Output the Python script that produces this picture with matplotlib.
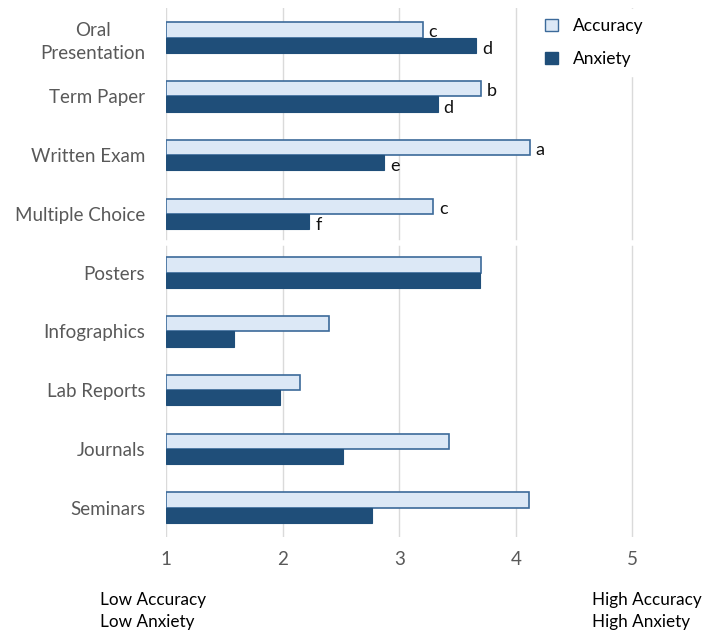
import matplotlib
matplotlib.use("Agg")
import matplotlib.pyplot as plt
import numpy as np
from matplotlib.patches import Patch

plt.rcParams['font.family'] = ['Lato', 'DejaVu Sans']

categories = ["Oral\nPresentation", "Term Paper", "Written Exam", "Multiple Choice",
              "Posters", "Infographics", "Lab Reports", "Journals", "Seminars"]
accuracy = [3.20, 3.70, 4.12, 3.29, 3.70, 2.40, 2.15, 3.43, 4.11]
anxiety = [3.66, 3.33, 2.87, 2.23, 3.69, 1.58, 1.98, 2.52, 2.77]
acc_letters = ["c", "b", "a", "c"]
anx_letters = ["d", "d", "e", "f"]
xticks = [1, 2, 3, 4, 5]

light = "#dce8f6"
edge = "#3c6a9a"
dark = "#1f4e79"
grey = "#595959"

fig = plt.figure(figsize=(7.02, 6.33), dpi=100)
ax = fig.add_axes([0.2365, 0.1517, 0.7475, 0.8353])

y = np.arange(len(categories))
h = 0.26
base = 1
ax.barh(y - h / 2, np.array(accuracy) - base, left=base, height=h,
        color=light, edgecolor=edge, linewidth=1.2, zorder=3)
ax.barh(y + h / 2, np.array(anxiety) - base, left=base, height=h,
        color=dark, edgecolor=dark, linewidth=0.8, zorder=3)

for i, (la, lx) in enumerate(zip(acc_letters, anx_letters)):
    ax.text(accuracy[i] + 0.05, i - h / 2 + 0.04, la, va='center', ha='left',
            fontsize=13, color='#111111')
    ax.text(anxiety[i] + 0.05, i + h / 2 + 0.06, lx, va='center', ha='left',
            fontsize=13, color='#111111')

ax.set_xlim(1, 5.5)
ax.set_ylim(len(categories) - 0.5, -0.5)
ax.set_xticks(xticks)
ax.set_yticks(y)
ax.set_yticklabels(categories, fontsize=13.5, color=grey, linespacing=1.45,
                   multialignment='center')
ax.tick_params(axis='both', length=0, colors=grey)
ax.tick_params(axis='x', pad=10, labelsize=13.5)
ax.tick_params(axis='y', pad=15)
for s in ax.spines.values():
    s.set_visible(False)
for xv in xticks:
    ax.axvline(xv, color="#dadada", linewidth=1, zorder=1)
# gap between the two groups
ax.axhline(3.5, color="white", linewidth=4, zorder=2)

handles = [Patch(facecolor=light, edgecolor=edge, label="Accuracy"),
           Patch(facecolor=dark, edgecolor=dark, label="Anxiety")]
leg = ax.legend(handles=handles, loc='upper left', bbox_to_anchor=(0.69, 1.015),
                frameon=True, fontsize=12.5, handlelength=0.7, handleheight=0.7,
                labelspacing=1.0, handletextpad=0.9, borderpad=0.5)
leg.get_frame().set_edgecolor('white')
leg.get_frame().set_facecolor('white')
leg.get_frame().set_alpha(1)
leg.set_zorder(5)

fig.text(100 / 702, 1 - 600 / 633, "Low Accuracy", fontsize=12.3, va='center', ha='left')
fig.text(100 / 702, 1 - 622 / 633, "Low Anxiety", fontsize=12.3, va='center', ha='left')
fig.text(592 / 702, 1 - 600 / 633, "High Accuracy", fontsize=12.3, va='center', ha='left')
fig.text(592 / 702, 1 - 622 / 633, "High Anxiety", fontsize=12.3, va='center', ha='left')

fig.savefig("out.png", dpi=100)
